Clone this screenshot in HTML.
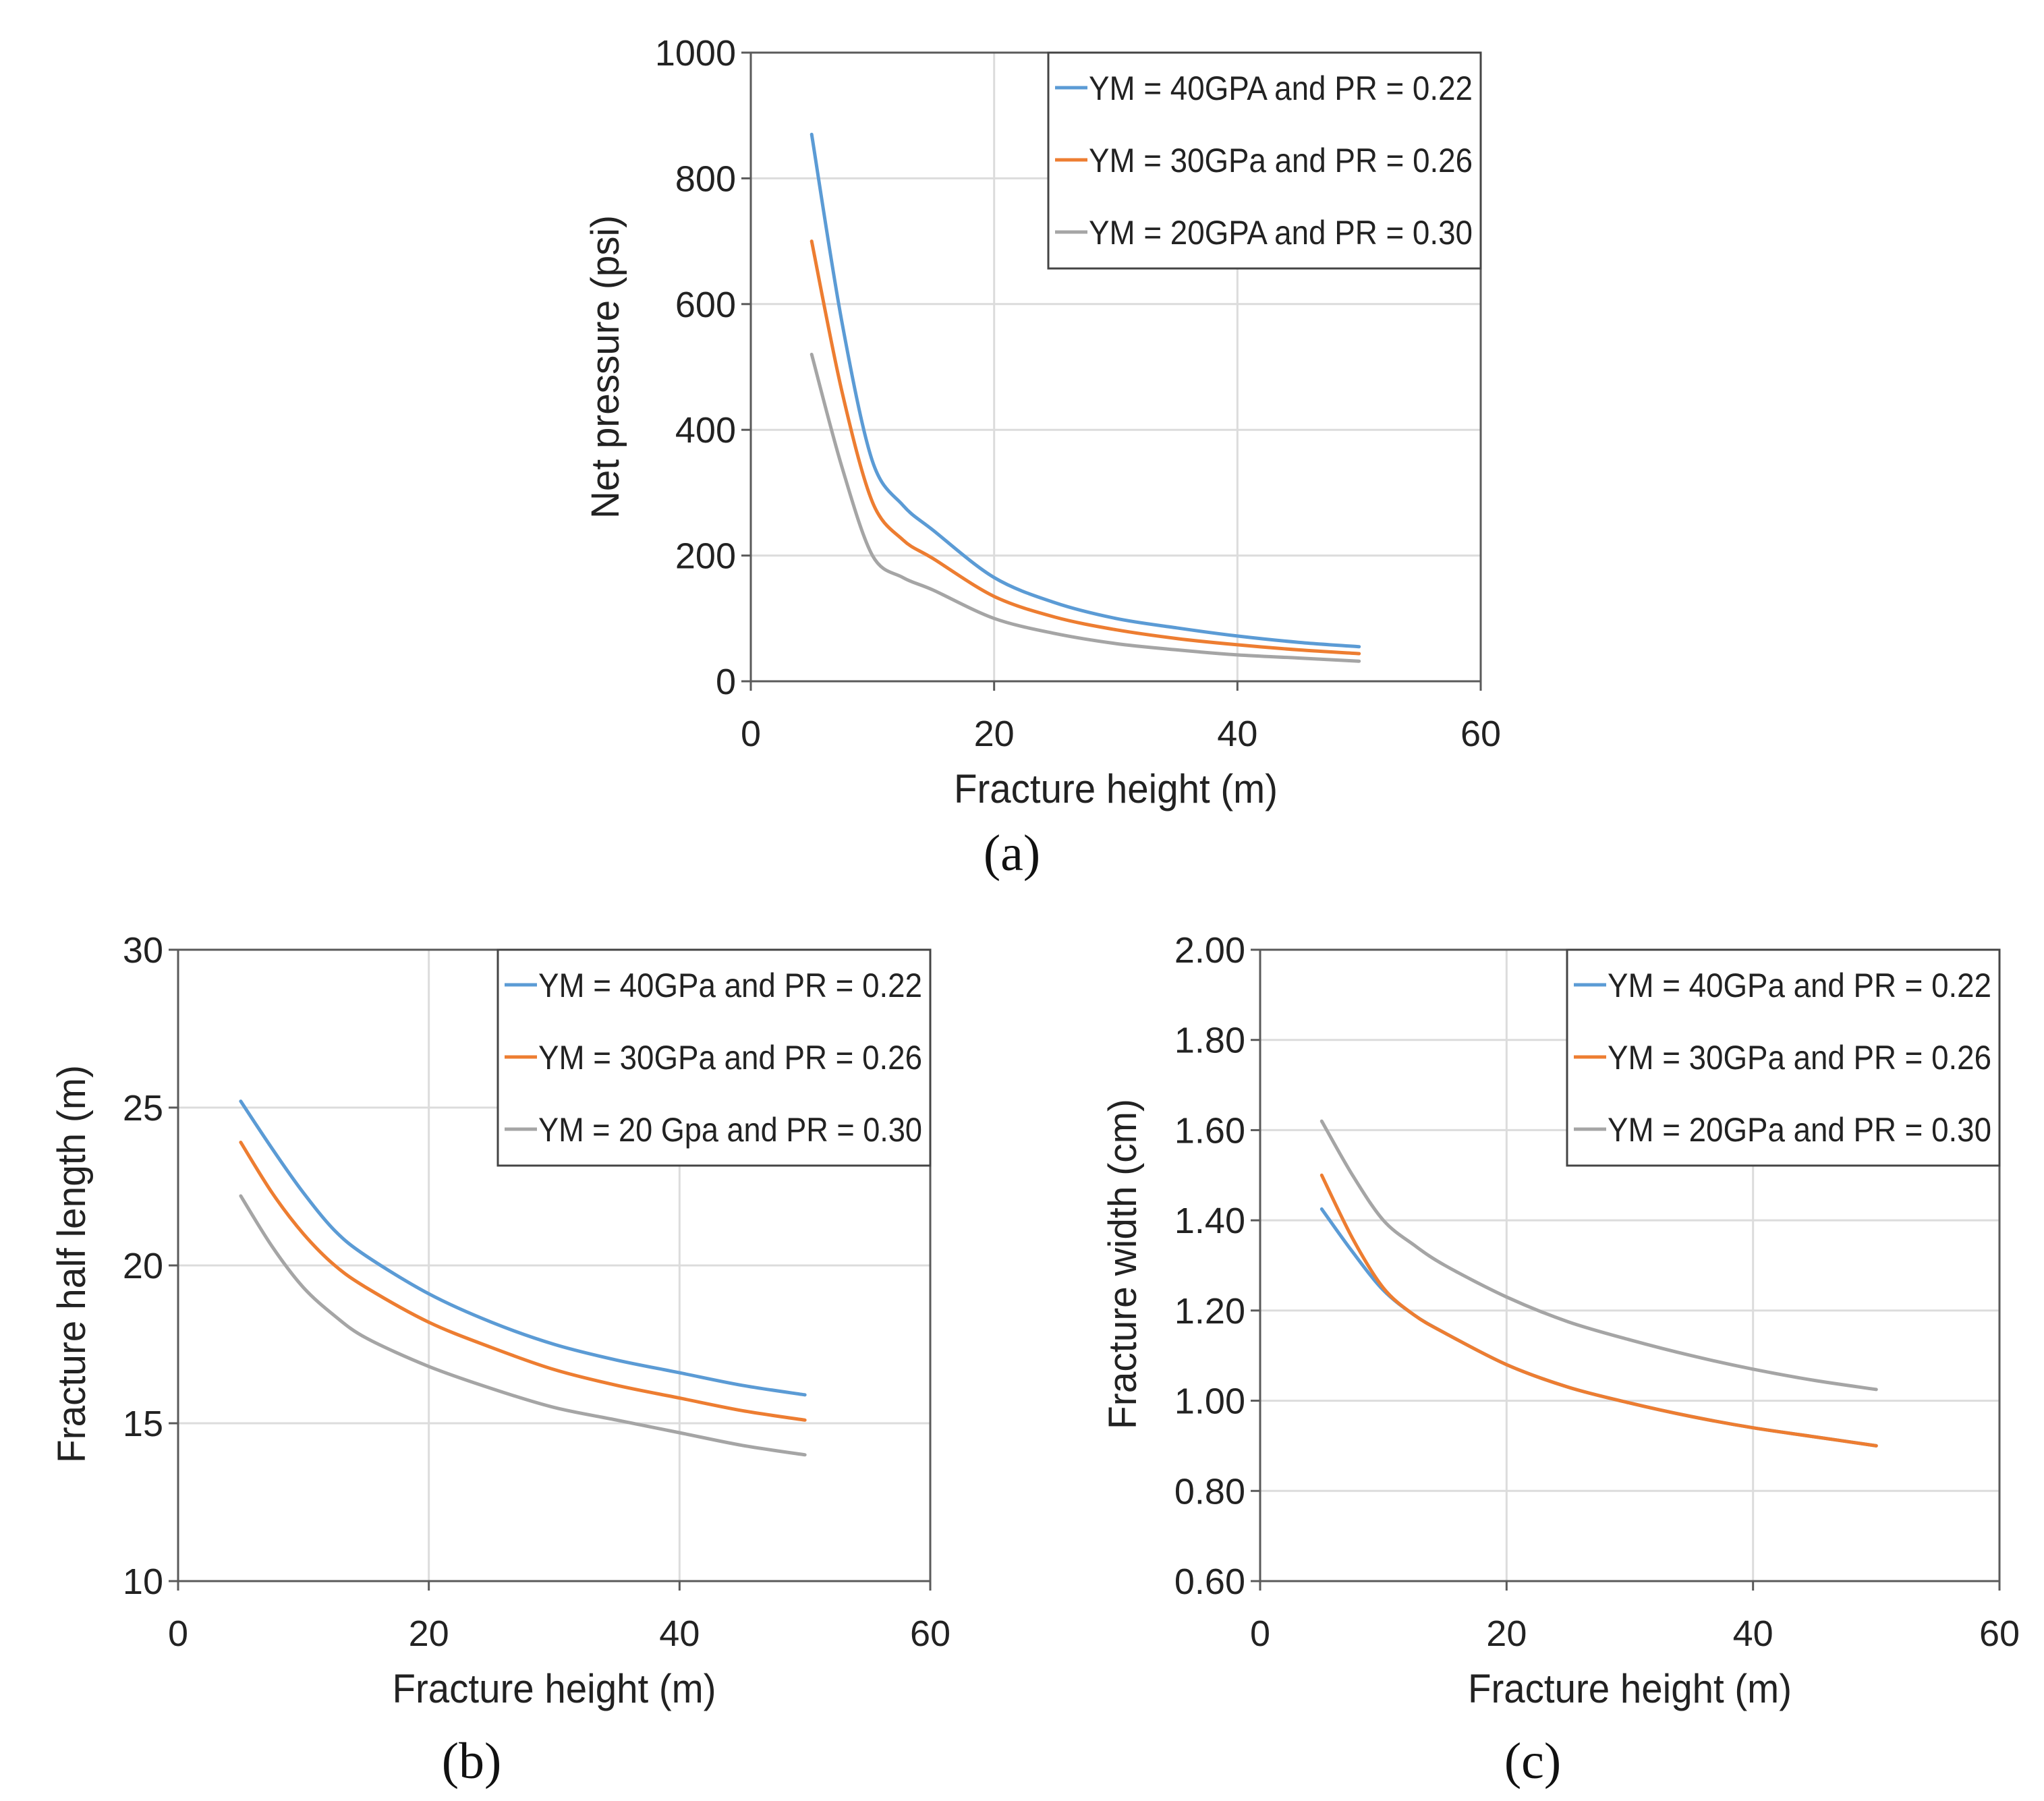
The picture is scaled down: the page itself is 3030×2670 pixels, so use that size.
<!DOCTYPE html>
<html><head><meta charset="utf-8"><style>
html,body{margin:0;padding:0;background:#fff;}
svg{display:block;font-family:"Liberation Sans",sans-serif;}
</style></head><body>
<svg id="fig" width="3030" height="2670" viewBox="0 0 3030 2670" xmlns="http://www.w3.org/2000/svg">
<rect width="3030" height="2670" fill="#fff"/>
</svg>
<script>
const xValues = [5, 7.5, 10, 12.5, 15, 20, 25, 30, 35, 40, 45, 50];
const seriesNames = ["YM = 40GPA and PR = 0.22", "YM = 30GPa and PR = 0.26", "YM = 20GPA and PR = 0.30"];
const seriesNamesB = ["YM = 40GPa and PR = 0.22", "YM = 30GPa and PR = 0.26", "YM = 20 Gpa and PR = 0.30"];
const seriesNamesC = ["YM = 40GPa and PR = 0.22", "YM = 30GPa and PR = 0.26", "YM = 20GPa and PR = 0.30"];
const pressureBlue = [870, 570, 350, 280, 240, 165, 125, 100, 85, 72, 62, 55];
const pressureOrange = [700, 460, 285, 225, 195, 135, 102, 82, 68, 58, 50, 44];
const pressureGray = [520, 340, 200, 165, 145, 100, 76, 60, 50, 42, 37, 32];
const lengthBlue = [25.2, 23.7, 22.3, 21.1, 20.3, 19.1, 18.2, 17.5, 17.0, 16.6, 16.2, 15.9];
const lengthOrange = [23.9, 22.3, 21.0, 20.0, 19.3, 18.2, 17.4, 16.7, 16.2, 15.8, 15.4, 15.1];
const lengthGray = [22.2, 20.6, 19.3, 18.4, 17.7, 16.8, 16.1, 15.5, 15.1, 14.7, 14.3, 14.0];
const widthBlue = [1.425, 1.33, 1.245, 1.19, 1.15, 1.08, 1.03, 0.995, 0.965, 0.94, 0.92, 0.90];
const widthOrange = [1.50, 1.36, 1.25, 1.19, 1.15, 1.08, 1.03, 0.995, 0.965, 0.94, 0.92, 0.90];
const widthGray = [1.62, 1.50, 1.40, 1.345, 1.30, 1.23, 1.175, 1.135, 1.10, 1.07, 1.045, 1.025];
const xTicks = [0, 20, 40, 60];
const yTicksA = [0, 200, 400, 600, 800, 1000];
const yTicksB = [10, 15, 20, 25, 30];
const yTicksC = [0.60, 0.80, 1.00, 1.20, 1.40, 1.60, 1.80, 2.00];
const colors = ["#5b9bd5", "#ed7d31", "#a5a5a5"];

const NS = "http://www.w3.org/2000/svg";
const svg = document.getElementById("fig");
function mk(tag, attrs, parent, text) {
  const e = document.createElementNS(NS, tag);
  for (const k in attrs) e.setAttribute(k, attrs[k]);
  if (text !== undefined) e.textContent = text;
  (parent || svg).appendChild(e);
  return e;
}
function smooth(pts) {
  let d = "M" + pts[0][0].toFixed(1) + " " + pts[0][1].toFixed(1);
  for (let i = 0; i < pts.length - 1; i++) {
    const p0 = pts[Math.max(0, i - 1)], p1 = pts[i], p2 = pts[i + 1], p3 = pts[Math.min(pts.length - 1, i + 2)];
    const t = 0.16;
    const c1 = [p1[0] + (p2[0] - p0[0]) * t, p1[1] + (p2[1] - p0[1]) * t];
    const c2 = [p2[0] - (p3[0] - p1[0]) * t, p2[1] - (p3[1] - p1[1]) * t];
    d += " C" + c1.map(v => v.toFixed(1)).join(" ") + " " + c2.map(v => v.toFixed(1)).join(" ") + " " + p2[0].toFixed(1) + " " + p2[1].toFixed(1);
  }
  return d;
}

function chart(cfg) {
  const g = mk("g", {});
  
  
  const {L, R, T, B, ymin, ymax} = cfg;
  const sx = v => L + (v - 0) / 60 * (R - L);
  const sy = v => B - (v - ymin) / (ymax - ymin) * (B - T);
  cfg.yTicks.forEach(v => {
    const l = mk("line", {x1: L, x2: R, y1: sy(v), y2: sy(v), stroke: "#dcdcdc", "stroke-width": 3}, g);
    
    
  });
  xTicks.forEach(v => {
    const l = mk("line", {x1: sx(v), x2: sx(v), y1: T, y2: B, stroke: "#dcdcdc", "stroke-width": 3}, g);
    
    
  });
  const frame = mk("rect", {x: L, y: T, width: R - L, height: B - T, fill: "none", stroke: "#5a5a5a", "stroke-width": 3}, g);
  
  
  cfg.yTicks.forEach(v => {
    const t = mk("line", {x1: L - 14, x2: L, y1: sy(v), y2: sy(v), stroke: "#5a5a5a", "stroke-width": 3}, g);
    
    
    const lb = mk("text", {x: L - 22, y: sy(v) + 19, "text-anchor": "end", "font-size": 54, fill: "#222"}, g, cfg.fmt(v));
    
    
  });
  xTicks.forEach(v => {
    const t = mk("line", {x1: sx(v), x2: sx(v), y1: B, y2: B + 14, stroke: "#5a5a5a", "stroke-width": 3}, g);
    
    
    const lb = mk("text", {x: sx(v), y: B + 96, "text-anchor": "middle", "font-size": 54, fill: "#222"}, g, String(v));
    
    
  });
  cfg.series.forEach((arr, i) => {
    const pts = arr.map((v, j) => [sx(xValues[j]), sy(v)]);
    const p = mk("path", {d: smooth(pts), fill: "none", stroke: colors[i], "stroke-width": 5, "stroke-linejoin": "round", "stroke-linecap": "round"}, g);
    
    
  });
  const lg = mk("g", {}, g);
  
  
  mk("rect", {x: cfg.legX, y: T, width: R - cfg.legX, height: 320, fill: "#fff", stroke: "#444", "stroke-width": 3}, lg);
  cfg.names.forEach((n, i) => {
    const yy = T + 52 + i * 107;
    const ln = mk("line", {x1: cfg.legX + 10, x2: cfg.legX + 58, y1: yy, y2: yy, stroke: colors[i], "stroke-width": 5}, lg);
    
    
    const tx = mk("text", {x: cfg.legX + 60, y: yy + 18, "font-size": 50, fill: "#222", textLength: R - cfg.legX - 72, lengthAdjust: "spacingAndGlyphs"}, lg, n);
    
    
  });
  const xt = mk("text", {x: (L + R) / 2, y: B + 180, "text-anchor": "middle", "font-size": 60, fill: "#222", textLength: 480, lengthAdjust: "spacingAndGlyphs"}, g, "Fracture height (m)");
  
  
  const yt = mk("text", {x: 0, y: 0, "text-anchor": "middle", "font-size": 58, fill: "#222", textLength: cfg.ytLen, lengthAdjust: "spacingAndGlyphs", transform: `translate(${cfg.ytX},${cfg.ytY}) rotate(-90)`}, g, cfg.ytitle);
  
  
  const cap = mk("text", {x: cfg.capX, y: cfg.capY, "text-anchor": "middle", "font-size": 76, fill: "#111", "font-family": "Liberation Serif, serif"}, g, cfg.cap);
  
  
}

chart({name: "chart-net-pressure", L: 1113, R: 2195, T: 78, B: 1010, ymin: 0, ymax: 1000,
  yTicks: yTicksA, fmt: v => String(v), series: [pressureBlue, pressureOrange, pressureGray],
  names: seriesNames, legX: 1554, ytitle: "Net pressure (psi)", ytX: 917, ytY: 544, ytLen: 450,
  cap: "(a)", capX: 1500, capY: 1290});
chart({name: "chart-half-length", L: 264, R: 1379, T: 1408, B: 2344, ymin: 10, ymax: 30,
  yTicks: yTicksB, fmt: v => String(v), series: [lengthBlue, lengthOrange, lengthGray],
  names: seriesNamesB, legX: 738, ytitle: "Fracture half length (m)", ytX: 126, ytY: 1874, ytLen: 590,
  cap: "(b)", capX: 699, capY: 2636});
chart({name: "chart-fracture-width", L: 1868, R: 2964, T: 1408, B: 2344, ymin: 0.6, ymax: 2.0,
  yTicks: yTicksC, fmt: v => v.toFixed(2), series: [widthBlue, widthOrange, widthGray],
  names: seriesNamesC, legX: 2323, ytitle: "Fracture width (cm)", ytX: 1684, ytY: 1874, ytLen: 490,
  cap: "(c)", capX: 2272, capY: 2636});
</script>
</body></html>
